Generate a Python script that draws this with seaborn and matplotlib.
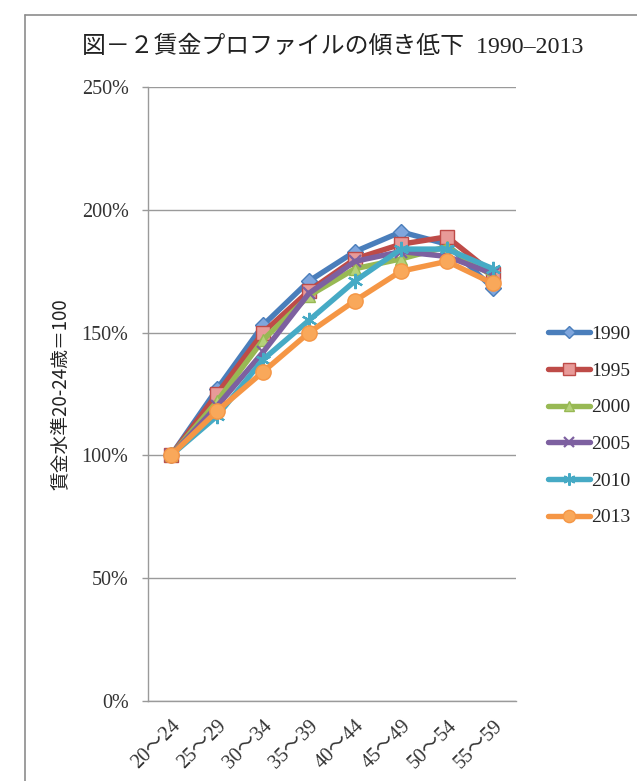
import matplotlib
matplotlib.use("Agg")
import matplotlib.pyplot as plt
from matplotlib.lines import Line2D
from matplotlib.ticker import FuncFormatter
import seaborn as sns
import pandas as pd

# Age groups (x axis)
age_groups = ["20～24", "25～29", "30～34", "35～39", "40～44", "45～49", "50～54", "55～59"]

# Wage level by age group, index 20-24 = 100 (%)
wage_1990 = [100, 127, 153, 171, 183, 191, 186, 168]
wage_1995 = [100, 125, 150, 167, 180, 186, 189, 174]
wage_2000 = [100, 122, 147, 165, 176, 180, 185, 173]
wage_2005 = [100, 120, 142, 166, 179, 183, 181, 174]
wage_2010 = [100, 116, 139, 155, 171, 184, 184, 176]
wage_2013 = [100, 118, 134, 150, 163, 175, 179, 170]

years = ["1990", "1995", "2000", "2005", "2010", "2013"]
series = [wage_1990, wage_1995, wage_2000, wage_2005, wage_2010, wage_2013]

line_colors = ["#4A7EBB", "#BE4B48", "#98B954", "#7D60A0", "#46AAC5", "#F59645"]
face_colors = ["#7FA6DD", "#E89A98", "#B5D17A", "#9F86C0", "#7CCBDD", "#F9A85A"]
markers = ["D", "s", "^", "x", (6, 2, 0), "o"]
marker_sizes = [8, 10, 9, 9, 11, 11]

rows = []
for yr, vals in zip(years, series):
    for i, v in enumerate(vals):
        rows.append({"year": yr, "pos": i, "value": v})
df = pd.DataFrame(rows)

sns.set_theme(style="white")
plt.rcParams["font.family"] = ["Liberation Serif", "Noto Sans CJK JP", "DejaVu Sans"]

fig = plt.figure(figsize=(6.37, 7.81), dpi=100)
ax = fig.add_axes([148 / 637, 1 - 701 / 781, (516 - 148) / 637, (701 - 87) / 781])

for yr, lc, fc, mk, ms in zip(years, line_colors, face_colors, markers, marker_sizes):
    sub = df[df["year"] == yr]
    thin = mk in ("x", (6, 2, 0))
    sns.lineplot(data=sub, x="pos", y="value", ax=ax, color=lc, lw=3.9,
                 marker=mk, markersize=ms, markerfacecolor=fc,
                 markeredgecolor=lc, markeredgewidth=1.6 if thin else 1.0,
                 label=yr, solid_capstyle="round", solid_joinstyle="round")

ax.set_xlim(-0.5, len(age_groups) - 0.5)
ax.set_ylim(0, 250)
ax.set_yticks([0, 50, 100, 150, 200, 250])
ax.yaxis.set_major_formatter(FuncFormatter(lambda v, p: f"{v:.0f}%"))
ax.set_xticks(range(len(age_groups)))
ax.set_xticklabels(age_groups, rotation=45, ha="right", rotation_mode="anchor")
ax.tick_params(axis="x", labelsize=14.5, pad=11, length=0, labelcolor="#333333")
ax.tick_params(axis="y", labelsize=14.5, pad=10, length=4, width=1, color="#999999",
               direction="out", left=True, labelcolor="#333333")

ax.grid(axis="y", color="#9A9A9A", lw=1.0)
ax.set_axisbelow(True)
for s in ["top", "right"]:
    ax.spines[s].set_visible(False)
for s in ["left", "bottom"]:
    ax.spines[s].set_color("#9A9A9A")
    ax.spines[s].set_linewidth(1.0)

ax.set_xlabel("")
ax.set_ylabel("賃金水準20-24歳＝100", fontsize=13.5, labelpad=8,
              family=["Noto Sans CJK JP", "DejaVu Sans"], color="#222222")

ax.legend(loc="center left", bbox_to_anchor=(540 / 637, 1 - 426 / 781),
          bbox_transform=fig.transFigure, frameon=False, fontsize=14,
          labelspacing=0.98, handlelength=2.15, handletextpad=0.1, borderaxespad=0,
          markerscale=0.8)

fig.text(333 / 637, 1 - 47 / 781, "図－２賃金プロファイルの傾き低下  1990–2013",
         ha="center", va="center", fontsize=17.2, color="#222222")

# Frame lines along the top and left edges of the chart area
fig.add_artist(Line2D([25 / 637, 1.0], [1 - 15 / 781, 1 - 15 / 781],
                      transform=fig.transFigure, color="#8C8C8C", lw=1.2))
fig.add_artist(Line2D([25 / 637, 25 / 637], [0, 1 - 15 / 781],
                      transform=fig.transFigure, color="#8C8C8C", lw=1.2))

fig.savefig("out.png", dpi=100, facecolor="white")
